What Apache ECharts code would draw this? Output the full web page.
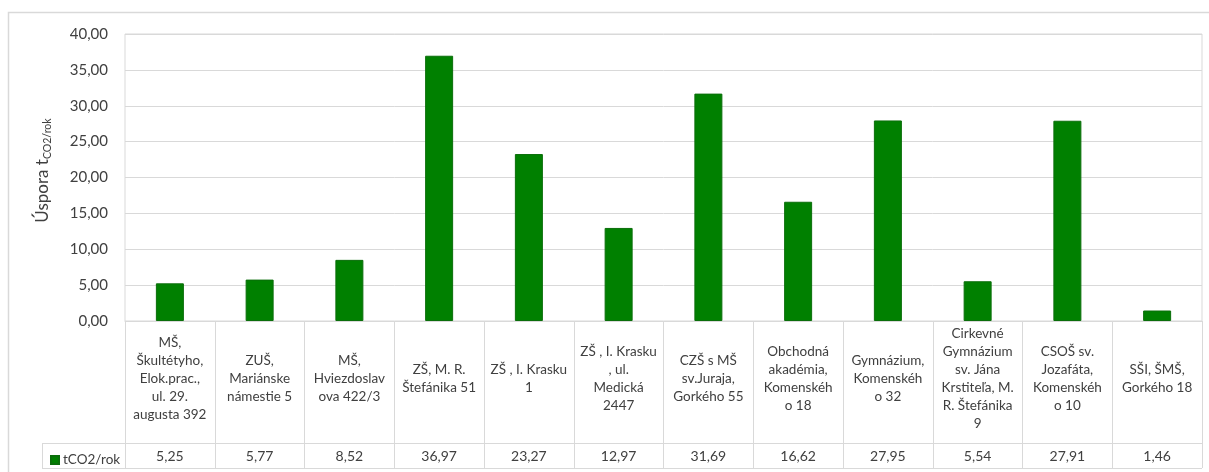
<!DOCTYPE html>
<html><head><meta charset="utf-8">
<script src="https://cdn.jsdelivr.net/npm/echarts@6/dist/echarts.min.js"></script>
<style>html,body{margin:0;padding:0;background:#fff}#c{width:1209px;height:472px}</style>
</head><body><div id="c"></div>
<script>
const categories = [
  "MŠ,\nŠkultétyho,\nElok.prac.,\nul. 29.\naugusta 392",
  "ZUŠ,\nMariánske\nnámestie 5",
  "MŠ,\nHviezdoslav\nova 422/3",
  "ZŠ, M. R.\nŠtefánika 51",
  "ZŠ , I. Krasku\n1",
  "ZŠ , I. Krasku\n, ul.\nMedická\n2447",
  "CZŠ s MŠ\nsv.Juraja,\nGorkého 55",
  "Obchodná\nakadémia,\nKomenskéh\no 18",
  "Gymnázium,\nKomenskéh\no 32",
  "Cirkevné\nGymnázium\nsv. Jána\nKrstiteľa, M.\nR. Štefánika\n9",
  "CSOŠ sv.\nJozafáta,\nKomenskéh\no 10",
  "SŠI, ŠMŠ,\nGorkého 18"
];
const seriesName = "tCO2/rok";
const values = [5.25, 5.77, 8.52, 36.97, 23.27, 12.97, 31.69, 16.62, 27.95, 5.54, 27.91, 1.46];
const yMin = 0, yMax = 40, yStep = 5;

const FONT = 'Lato';
const GRID = '#d9d9d9';
const TXT = '#404040';
const fmt = v => v.toFixed(2).replace('.', ',');

const chart = echarts.init(document.getElementById('c'), null, {renderer: 'canvas'});
const gl = 125, gr = 1202, gt = 34, gb = 321;
const tableMid = 443, tableBot = 468, tableLeft = 42;

chart.setOption({
  animation: false,
  textStyle: {fontFamily: FONT},
  grid: {left: gl, right: 1209 - gr, top: gt, bottom: 472 - gb, show: true, borderColor: GRID, borderWidth: 1},
  legend: {
    left: 45, top: 448, itemWidth: 8, itemHeight: 8, itemGap: 4,
    icon: 'rect',
    textStyle: {fontFamily: FONT, fontSize: 13.5, color: TXT, padding: [0,0,0,-1]},
    data: [seriesName]
  },
  xAxis: [{
    type: 'category',
    data: categories,
    axisLine: {show: true, lineStyle: {color: GRID}},
    axisTick: {show: true, interval: 0, length: tableBot - gb, lineStyle: {color: GRID}},
    axisLabel: {interval: 0, margin: 58, verticalAlign: 'middle', lineHeight: 18,
      fontFamily: FONT, fontSize: 13.5, color: TXT, align: 'center'},
  }, {
    type: 'category',
    position: 'bottom',
    offset: tableMid - gb,
    data: values.map(fmt),
    axisLine: {show: false},
    axisTick: {show: false},
    axisLabel: {interval: 0, margin: 13, verticalAlign: 'middle', fontFamily: FONT, fontSize: 14, color: TXT}
  }],
  yAxis: {
    type: 'value', min: yMin, max: yMax, interval: yStep,
    axisLine: {show: false}, axisTick: {show: false},
    splitLine: {lineStyle: {color: GRID}},
    axisLabel: {formatter: fmt, margin: 17, fontFamily: FONT, fontSize: 15, color: TXT},
    name: '{a|Úspora t}{b|CO2/rok}',
    nameLocation: 'middle', nameRotate: 90, nameGap: 72,
    nameTextStyle: {
      padding: [0, 0, 0, 14],
      rich: {
        a: {fontFamily: FONT, fontSize: 17, color: TXT},
        b: {fontFamily: FONT, fontSize: 10.5, color: TXT, padding: [9, 0, 0, 0]}
      }
    }
  },
  series: [{
    name: seriesName,
    type: 'bar',
    data: values,
    barWidth: 28,
    itemStyle: {color: '#008000', borderColor: '#0a6e0a', borderWidth: 1}
  }],
  graphic: [
    {type: 'rect', shape: {x: 8.5, y: 12.5, width: 1220, height: 480}, style: {fill: 'none', stroke: GRID, lineWidth: 1.5}, silent: true},
    {type: 'line', shape: {x1: tableLeft, y1: tableMid + 0.5, x2: gr, y2: tableMid + 0.5}, style: {stroke: GRID, lineWidth: 1}},
    {type: 'line', shape: {x1: tableLeft, y1: tableBot + 0.5, x2: gr, y2: tableBot + 0.5}, style: {stroke: GRID, lineWidth: 1}},
    {type: 'line', shape: {x1: tableLeft + 0.5, y1: tableMid, x2: tableLeft + 0.5, y2: tableBot}, style: {stroke: GRID, lineWidth: 1}}
  ]
});
</script></body></html>
